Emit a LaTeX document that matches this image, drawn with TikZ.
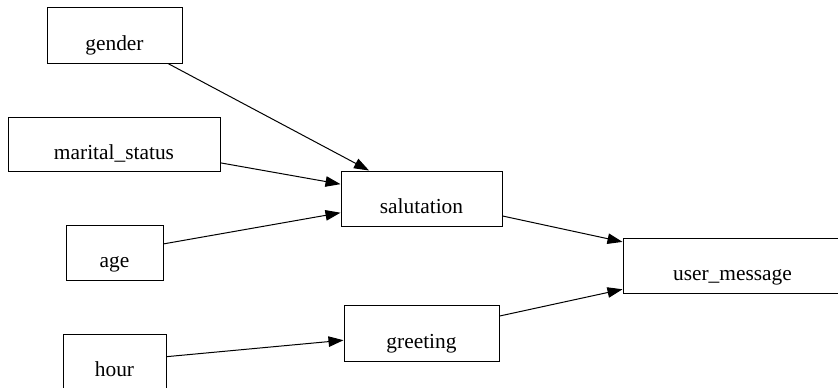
\documentclass[tikz,border=0pt]{standalone}
\usepackage{fontspec}
\setmainfont{Liberation Serif}
\usetikzlibrary{arrows.meta}
\begin{document}
\begin{tikzpicture}[x=1pt,y=-1pt,
  box/.style={draw=black, line width=1pt, inner sep=0pt, text height=30pt, text depth=0pt,
    font=\fontsize{21.4pt}{24pt}\selectfont, minimum height=55pt},
  edge/.style={line width=1pt, -{Triangle[length=15pt,width=10.5pt]}}]
\useasboundingbox (0,0) rectangle (838,388);
\clip (0,0) rectangle (838,388);
\node[box, minimum width=135pt, minimum height=56pt] (gender) at (114.5,35) {gender};
\node[box, minimum width=212pt, minimum height=54pt] (marital) at (114,144) {marital\_status};
\node[box, minimum width=97pt] (age) at (114.5,252.5) {age};
\node[box, minimum width=103pt] (hour) at (114.5,361.5) {hour};
\node[box, minimum width=161pt] (salutation) at (421.5,198.5) {salutation};
\node[box, minimum width=155pt, minimum height=56pt] (greeting) at (421.5,333) {greeting};
\node[box, minimum width=219pt] (user) at (732.5,265.5) {user\_message};
\draw[edge] (gender) -- (salutation);
\draw[edge] (marital) -- (salutation);
\draw[edge] (age) -- (salutation);
\draw[edge] (hour) -- (greeting);
\draw[edge] (salutation) -- (user);
\draw[edge] (greeting) -- (user);
\end{tikzpicture}
\end{document}
